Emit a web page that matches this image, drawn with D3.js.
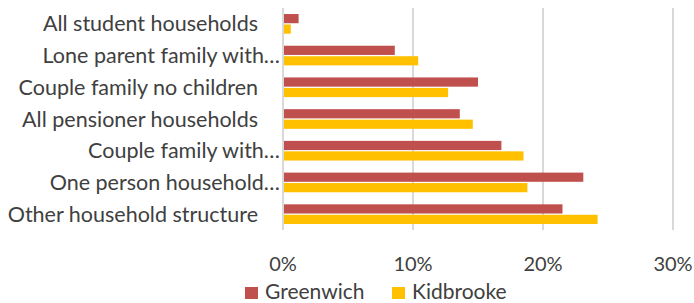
<!DOCTYPE html>
<html>
<head>
<meta charset="utf-8">
<script src="https://cdn.jsdelivr.net/npm/d3@7"></script>
<style>
  body { margin: 0; background: #fff; }
  text { font-family: "Lato", "Open Sans", sans-serif; fill: #404040; }
</style>
</head>
<body>
<div id="chart"></div>
<script>
// Household structure, Greenwich vs Kidbrooke

const width = 694;
const height = 303;

// Data
const categories = [
  "All student households",
  "Lone parent family with…",
  "Couple family no children",
  "All pensioner households",
  "Couple family with…",
  "One person household…",
  "Other household structure"
];
const seriesNames = ["Greenwich", "Kidbrooke"];
const greenwich = [1.2, 8.6, 15.0, 13.6, 16.8, 23.1, 21.5];
const kidbrooke = [0.6, 10.4, 12.7, 14.6, 18.5, 18.8, 24.2];
const ticks = [0, 10, 20, 30];

const colors = ["#C0504D", "#FFC000"];

const margin = { top: 8, left: 283, right: 21, bottom: 73 };

const svg = d3.select("#chart")
  .append("svg")
  .attr("width", width)
  .attr("height", height);

const x = d3.scaleLinear()
  .domain([0, 30])
  .range([margin.left, width - margin.right]);

const y = d3.scaleBand()
  .domain(categories)
  .range([margin.top, height - margin.bottom])
  .paddingInner(0.38)
  .paddingOuter(0.19);

const ySub = d3.scaleBand()
  .domain(seriesNames)
  .range([0, y.bandwidth()])
  .paddingInner(0.12);

// Gridlines
svg.append("g")
  .selectAll("line")
  .data(ticks)
  .join("line")
  .attr("x1", d => x(d))
  .attr("x2", d => x(d))
  .attr("y1", margin.top)
  .attr("y2", height - margin.bottom)
  .attr("stroke", "#D9D9D9")
  .attr("stroke-width", 2);

// Bars
const rows = categories.map((c, i) => ({ cat: c, values: [greenwich[i], kidbrooke[i]] }));

const group = svg.append("g")
  .selectAll("g")
  .data(rows)
  .join("g")
  .attr("transform", d => `translate(0,${y(d.cat)})`);

group.selectAll("rect")
  .data(d => d.values.map((v, j) => ({ name: seriesNames[j], value: v, color: colors[j] })))
  .join("rect")
  .attr("x", x(0) + 1)
  .attr("y", d => ySub(d.name))
  .attr("width", d => x(d.value) - x(0) - 1)
  .attr("height", ySub.bandwidth())
  .attr("fill", d => d.color);

// Category labels
svg.append("g")
  .selectAll("text")
  .data(categories)
  .join("text")
  .attr("x", d => d.endsWith("…") ? 280 : 258)
  .attr("y", d => y(d) + y.bandwidth() / 2)
  .attr("dy", "0.35em")
  .attr("text-anchor", "end")
  .attr("font-size", "21.5px")
  .text(d => d);

// X tick labels
svg.append("g")
  .selectAll("text")
  .data(ticks)
  .join("text")
  .attr("x", d => x(d))
  .attr("y", 271)
  .attr("text-anchor", "middle")
  .attr("font-size", "20px")
  .text(d => d + "%");

// Legend
const legendX = [245, 392];
const legend = svg.append("g")
  .selectAll("g")
  .data(seriesNames)
  .join("g")
  .attr("transform", (d, i) => `translate(${legendX[i]},287)`);

legend.append("rect")
  .attr("width", 13)
  .attr("height", 12)
  .attr("fill", (d, i) => colors[i]);

legend.append("text")
  .attr("x", 20)
  .attr("y", 12)
  .attr("font-size", "21px")
  .text(d => d);
</script>
</body>
</html>
